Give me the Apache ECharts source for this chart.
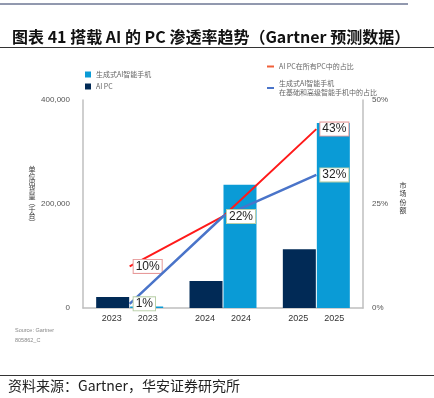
<!DOCTYPE html>
<html lang="zh">
<head>
  <meta charset="UTF-8">
  <title>搭载AI的PC渗透率趋势</title>
  <script src="https://cdn.jsdelivr.net/npm/echarts@6.0.0/dist/echarts.min.js"></script>
  <style>
    html, body { margin: 0; padding: 0; background: #fff; }
  </style>
</head>
<body>
  <div id="chart" style="width: 434px; height: 398px;"></div>

  <script>
    // 数据
    const years = ['2023', '2024', '2025']
    const aiPcShip = [21000, 52000, 113000]          // AI PC 出货量(千台)
    const genAiPhoneShip = [3000, 237000, 356000]   // 生成式AI智能手机出货量(千台)
    const aiPcShare = [10, 22, 43]                  // AI PC在所有PC中的占比 %
    const genAiPhoneShare = [1, 22, 32]             // 生成式AI智能手机占比 %
    const leftTicks = [0, 200000, 400000]
    const rightTicks = [0, 25, 50]

    const FONT = '"Liberation Sans", "Noto Sans CJK SC", sans-serif'
    const CJK = '"Noto Sans CJK SC", sans-serif'

    const chart = echarts.init(document.getElementById('chart'), null, {renderer: 'canvas'})

    function boxLabel(border) {
      return {
        show: true,
        position: 'right',
        distance: 4,
        formatter: '{c}%',
        fontSize: 12,
        fontFamily: FONT,
        color: '#222',
        backgroundColor: '#fff',
        borderColor: border,
        borderWidth: 1,
        padding: [1, 2, 0, 2]
      }
    }

    // 竖排文字：每个字一个 text
    function vText(chars, x, y, step) {
      return chars.map(function (c, i) {
        return {
          type: 'text',
          x: x,
          y: y + i * step,
          style: {text: c, fill: '#333', font: '7px "Noto Sans CJK SC"', align: 'center', verticalAlign: 'top'}
        }
      })
    }

    chart.setOption({
      animation: false,
      textStyle: {fontFamily: FONT},
      title: {
        text: '图表 41 搭载 AI 的 PC 渗透率趋势（Gartner 预测数据）',
        left: 7,
        top: 24,
        textStyle: {fontSize: 16, fontWeight: 'bold', color: '#111', fontFamily: CJK}
      },
      legend: [{
        data: ['生成式AI智能手机', 'AI PC'],
        orient: 'vertical',
        left: 80,
        top: 66,
        icon: 'rect',
        itemWidth: 6,
        itemHeight: 6,
        itemGap: 5,
        textStyle: {fontSize: 7, color: '#666', fontFamily: CJK}
      }, {
        data: ['AI PC在所有PC中的占比', '生成式AI智能手机在基础和高级智能手机中的占比'],
        orient: 'vertical',
        left: 262,
        top: 57,
        icon: 'rect',
        itemWidth: 7,
        itemHeight: 2,
        itemGap: 8,
        formatter: function (name) {
          return name.replace('手机在', '手机\n在')
        },
        textStyle: {fontSize: 7, color: '#666', lineHeight: 9, fontFamily: CJK}
      }],
      grid: {left: 83, right: 71, top: 100, bottom: 90},
      xAxis: {
        type: 'category',
        data: years,
        axisLine: {lineStyle: {color: '#bfbfbf', width: 1.5}},
        axisTick: {show: false},
        axisLabel: {
          interval: 0,
          hideOverlap: false,
          margin: 6,
          formatter: function (v) { return '{a|' + v + '}{a|' + v + '}' },
          rich: {a: {width: 36, align: 'center', fontSize: 9, color: '#333', fontFamily: FONT}}
        }
      },
      yAxis: [{
        type: 'value',
        min: leftTicks[0],
        max: leftTicks[leftTicks.length - 1],
        interval: leftTicks[1] - leftTicks[0],
        axisLine: {show: true, lineStyle: {color: '#bfbfbf', width: 1.5}},
        axisTick: {show: false},
        splitLine: {show: false},
        axisLabel: {fontSize: 8, color: '#555', margin: 13}
      }, {
        type: 'value',
        min: rightTicks[0],
        max: rightTicks[rightTicks.length - 1],
        interval: rightTicks[1] - rightTicks[0],
        position: 'right',
        axisLine: {show: true, lineStyle: {color: '#bfbfbf', width: 1.5}},
        axisTick: {show: false},
        splitLine: {show: false},
        axisLabel: {fontSize: 8, color: '#555', margin: 9, formatter: '{value}%'}
      }],
      series: [{
        name: 'AI PC',
        type: 'bar',
        data: aiPcShip,
        barWidth: 33,
        barGap: '3%',
        itemStyle: {color: '#012a56'}
      }, {
        name: '生成式AI智能手机',
        type: 'bar',
        data: genAiPhoneShip,
        barWidth: 33,
        itemStyle: {color: '#0a9bd6'}
      }, {
        name: 'AI PC在所有PC中的占比',
        type: 'line',
        yAxisIndex: 1,
        data: aiPcShare.map(function (v, i) {
          return i === 1 ? {value: v, label: {show: false}} : v
        }),
        symbol: 'circle',
        symbolSize: 0,
        lineStyle: {color: '#ff1a1a', width: 2},
        itemStyle: {color: '#f0603a'},
        label: boxLabel('#e79a9a'),
        z: 5
      }, {
        name: '生成式AI智能手机在基础和高级智能手机中的占比',
        type: 'line',
        yAxisIndex: 1,
        data: genAiPhoneShare,
        symbol: 'circle',
        symbolSize: 0,
        lineStyle: {color: '#4a74c9', width: 2.5},
        itemStyle: {color: '#4a74c9'},
        label: boxLabel('#b9cfa8'),
        z: 6
      }],
      graphic: [
        {type: 'line', shape: {x1: 0, y1: 4, x2: 408, y2: 4}, style: {stroke: '#24325f', lineWidth: 1}},
        {type: 'line', shape: {x1: 0, y1: 47.5, x2: 434, y2: 47.5}, style: {stroke: '#333', lineWidth: 1}},
        {type: 'line', shape: {x1: 0, y1: 375.5, x2: 434, y2: 375.5}, style: {stroke: '#333', lineWidth: 1}},
        {
          type: 'text', left: 15, top: 327,
          style: {text: 'Source: Gartner\n\n805862_C', lineHeight: 5, fill: '#888', font: '5.5px "Liberation Sans"'}
        },
        {
          type: 'text', left: 8, top: 379,
          style: {text: '资料来源：Gartner，华安证券研究所', fill: '#222', font: '14px "Noto Sans CJK SC"'}
        }
      ].concat(
        vText(['单', '位', '出', '货', '量', '︵', '千', '台', '︶'], 32, 166, 6.6),
        vText(['市', '场', '份', '额'], 403, 182, 8.3)
      )
    })
  </script>
</body>
</html>
